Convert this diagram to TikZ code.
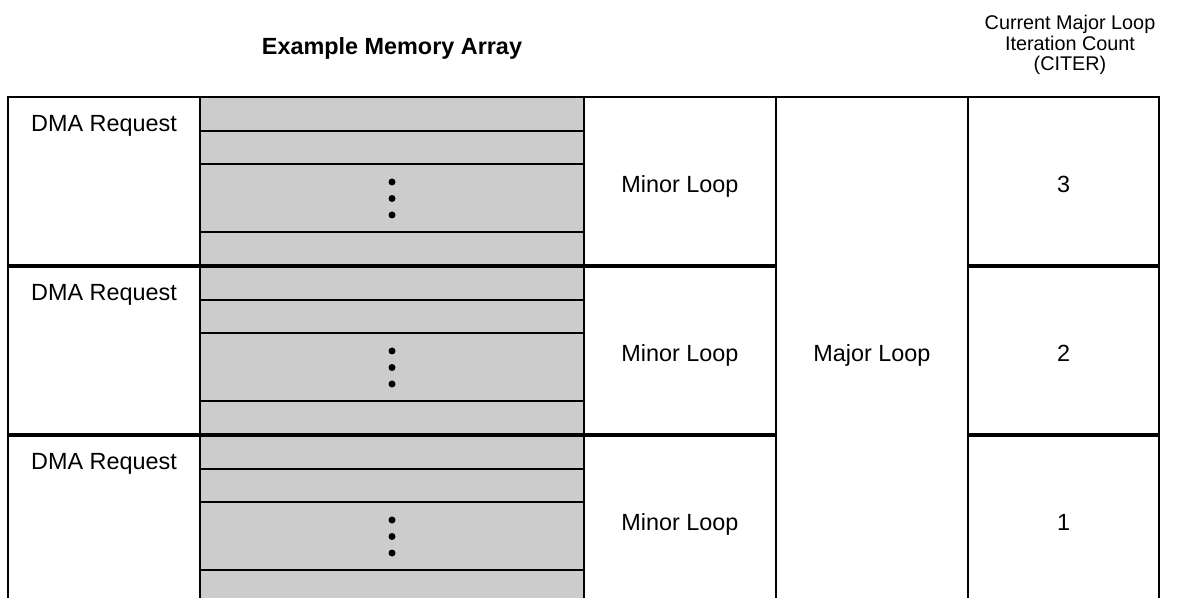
\documentclass[tikz,border=0pt]{standalone}
\usepackage{fontspec}
\setmainfont{Liberation Sans}
\usepackage{tikz}
\definecolor{memgray}{HTML}{CCCCCC}

\begin{document}
\begin{tikzpicture}[
        x=0.5pt, y=-0.5pt,
        txt/.style={inner sep=0pt, font=\fontsize{11.7}{14}\selectfont},
        headtxt/.style={inner sep=0pt, align=center, font=\fontsize{9.9}{10.15}\selectfont},
        vdot/.style={circle, fill=black, inner sep=0pt, minimum size=3.5pt},
        cellline/.style={line width=0.9pt},
        colline/.style={line width=1.3pt},
        rowline/.style={line width=2pt}
    ]
        \useasboundingbox (0,0) rectangle (1177,598);

        % Headers
        \node[txt, font=\bfseries\fontsize{11.7}{14}\selectfont, anchor=base] (title) at (392,55) {Example Memory Array};
        \node[headtxt, anchor=north] (citerhead) at (1070,15) {Current Major Loop\\Iteration Count\\(CITER)};

        % Memory array column
        \fill[memgray] (200,97) rectangle (584,598);

        % Rows
        \foreach \cnt [count=\i from 0] in {3,2,1} {
            \pgfmathsetmacro{\rowtop}{97+169*\i}
            \foreach \dy in {34,67,135}
                \draw[cellline] (200,\rowtop+\dy) -- (584,\rowtop+\dy);
            \node[txt, anchor=base] (dma\i) at (104,\rowtop+34.5) {DMA Request};
            \node[txt, anchor=base] (minor\i) at (680,\rowtop+95.7) {Minor Loop};
            \node[txt, anchor=base] (citer\i) at (1063.5,\rowtop+95.7) {\cnt};
            \node[vdot] (dota\i) at (392,\rowtop+85) {};
            \node[vdot] (dotb\i) at (392,\rowtop+101.5) {};
            \node[vdot] (dotc\i) at (392,\rowtop+118) {};
        }
        \node[txt, anchor=base] (major) at (872,361.7) {Major Loop};

        % Grid lines
        \foreach \x in {8,200,584,776,968,1159}
            \draw[colline] (\x,97) -- (\x,598);
        \foreach \y in {266,435} {
            \draw[rowline] (8,\y) -- (776,\y);
            \draw[rowline] (968,\y) -- (1159,\y);
        }
        \draw[cellline, line width=1pt] (7.35,97) -- (1159.65,97);
    \end{tikzpicture}
\end{document}
